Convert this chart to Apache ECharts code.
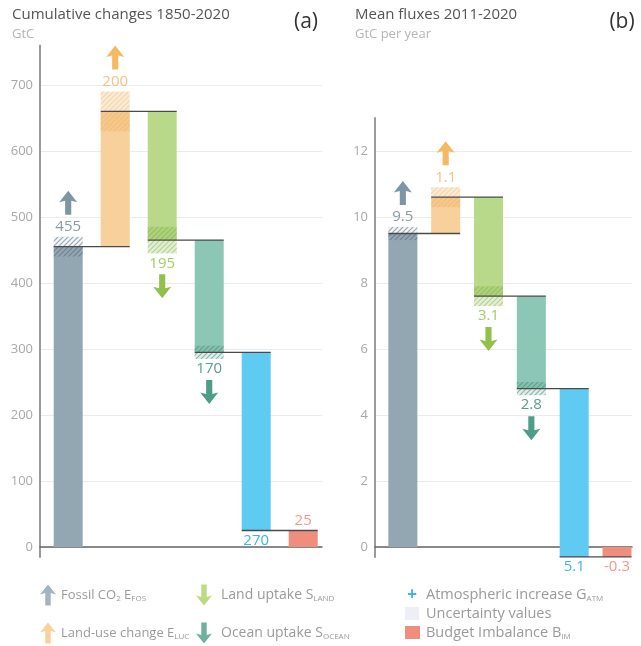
<!DOCTYPE html>
<html><head><meta charset="utf-8">
<script src="https://cdn.jsdelivr.net/npm/echarts@6/dist/echarts.min.js"></script>
<style>html,body{margin:0;padding:0;background:#fff}#c{width:641px;height:646px}</style>
</head><body><div id="c"></div>
<script>
// ---- data ----
const components = ['Fossil CO2', 'Land-use change', 'Land uptake', 'Ocean uptake', 'Atmospheric increase', 'Budget imbalance'];
const kinds = ['source', 'source', 'sink', 'sink', 'atm', 'bim'];

// Panel (a): cumulative changes 1850-2020, GtC
const lowA = [0, 455, 465, 295, 25, 0];
const highA = [455, 660, 660, 465, 295, 25];
const endA = [455, 660, 465, 295, 25, 25];
const uncA = [15, 30, 20, 10, 0, 0];
const labelA = ['455', '200', '195', '170', '270', '25'];
const ticksA = [0, 100, 200, 300, 400, 500, 600, 700];

// Panel (b): mean fluxes 2011-2020, GtC per year
const lowB = [0, 9.5, 7.6, 4.8, -0.3, -0.3];
const highB = [9.5, 10.6, 10.6, 7.6, 4.8, 0];
const endB = [9.5, 10.6, 7.6, 4.8, -0.3, -0.3];
const uncB = [0.2, 0.3, 0.3, 0.2, 0, 0];
const labelB = ['9.5', '1.1', '3.1', '2.8', '5.1', '-0.3'];
const ticksB = [0, 2, 4, 6, 8, 10, 12];

// ---- styles ----
const FONT = "'Open Sans', sans-serif";
const barColors = ['#93a7b3', '#f8d09c', '#b8d88a', '#8cc6b5', '#5fcbf2', '#f08e7e'];
const labelColors = ['#8a9ba6', '#f5c27e', '#a5cc62', '#5a9f8e', '#3db6e6', '#f29a88'];
const arrowColors = ['#7d96a4', '#f4b962', '#92c14b', '#4f9c88'];
const hatchColors = ['rgba(70,95,110,0.5)', 'rgba(235,165,80,0.3)', 'rgba(120,170,60,0.42)', 'rgba(60,130,110,0.5)', 'rgba(40,150,200,0.5)', 'rgba(220,100,80,0.5)'];
const tintColors = ['rgba(147,167,179,0.12)', 'rgba(240,180,100,0.28)', 'rgba(140,190,80,0.25)', 'rgba(100,170,150,0.2)', 'rgba(95,203,242,0.2)', 'rgba(240,142,126,0.2)'];

function hatchCanvas(color) {
  const c = document.createElement('canvas');
  c.width = 5; c.height = 5;
  const g = c.getContext('2d');
  g.strokeStyle = color; g.lineWidth = 1.2;
  g.beginPath();
  g.moveTo(0, 5); g.lineTo(5, 0);
  g.moveTo(-1, 1); g.lineTo(1, -1);
  g.moveTo(4, 6); g.lineTo(6, 4);
  g.stroke();
  return c;
}
const patterns = hatchColors.map(c => ({ image: hatchCanvas(c), repeat: 'repeat' }));

function arrowPoints(cx, cy, up, w, h) {
  const s = up ? 1 : -1;
  const hw = w / 2, sh = w * 0.17, headH = h * 0.48;
  const tip = cy - s * h / 2, base = tip + s * headH, tail = cy + s * h / 2;
  return [[cx, tip], [cx + hw, base], [cx + sh, base - s * 1.5], [cx + sh, tail], [cx - sh, tail], [cx - sh, base - s * 1.5], [cx - hw, base]];
}

function makeRender(low, high, end, unc, labels) {
  return function (params, api) {
    const i = params.dataIndex;
    const bw = 29;
    const cx = api.coord([i, 0])[0];
    const yLow = api.coord([i, low[i]])[1];
    const yHigh = api.coord([i, high[i]])[1];
    const ch = [];
    ch.push({ type: 'rect', shape: { x: cx - bw / 2, y: yHigh, width: bw, height: yLow - yHigh }, style: { fill: barColors[i] } });
    let yTopEdge = api.coord([i, end[i]])[1], yBotEdge = yTopEdge;
    if (unc[i] > 0) {
      const y1 = api.coord([i, end[i] + unc[i]])[1];
      const y2 = api.coord([i, end[i] - unc[i]])[1];
      ch.push({ type: 'rect', shape: { x: cx - bw / 2, y: y1, width: bw, height: y2 - y1 }, style: { fill: tintColors[i] } });
      ch.push({ type: 'rect', shape: { x: cx - bw / 2, y: y1, width: bw, height: y2 - y1 }, style: { fill: patterns[i] } });
      yTopEdge = y1; yBotEdge = y2;
    }
    if (i < labels.length - 1) {
      const cxn = api.coord([i + 1, 0])[0];
      const yl = api.coord([i, end[i]])[1];
      ch.push({ type: 'line', z2: 10, shape: { x1: cx - bw / 2, y1: yl, x2: cxn + bw / 2, y2: yl }, style: { stroke: '#4a4a4a', lineWidth: 1.3 } });
    }
    const k = kinds[i];
    const above = k === 'source' || (k === 'bim' && high[i] > 0);
    const ly = above ? yTopEdge - 10 : yBotEdge + 10;
    ch.push({ type: 'text', z2: 11, style: { text: labels[i], x: cx, y: ly, align: 'center', verticalAlign: 'middle', fill: labelColors[i], font: '500 15px ' + FONT } });
    if (k === 'source' || k === 'sink') {
      const ay = above ? ly - 24 : ly + 23;
      ch.push({ type: 'polygon', z2: 11, shape: { points: arrowPoints(cx, ay, above, 18, 24) }, style: { fill: arrowColors[i] } });
    }
    return { type: 'group', children: ch };
  };
}

const idx = components.map((_, i) => [i]);

function yAxisCfg(grid, min, max, ticks) {
  return {
    gridIndex: grid, type: 'value', min: min, max: max,
    axisLine: { show: true, onZero: false, lineStyle: { color: '#9a9a9a', width: 2 } },
    axisTick: { show: false, customValues: ticks },
    axisLabel: { customValues: ticks, color: '#a8a8a8', fontSize: 13, fontFamily: FONT, margin: 7 },
    splitLine: { show: true, lineStyle: { color: '#ebebeb', width: 1 } }
  };
}
function xAxisCfg(grid, min, max) {
  return {
    gridIndex: grid, type: 'value', min: min, max: max,
    axisLine: { show: true, onZero: true, lineStyle: { color: '#666', width: 1.5 } },
    axisTick: { show: false }, axisLabel: { show: false }, splitLine: { show: false }
  };
}

// legend helpers
const LC = '#9a9a9a';
function legText(x, y, text, size) {
  return { type: 'text', x: x, y: y, style: { text: text, fill: LC, fontSize: size, fontFamily: FONT, lineHeight: 16, verticalAlign: 'middle',
    rich: { s: { fontSize: 8, fontFamily: FONT, fill: LC, verticalAlign: 'bottom', lineHeight: 8 } } } };
}
function legArrow(cx, cy, up, color) {
  return { type: 'polygon', shape: { points: arrowPoints(cx, cy, up, 16, 21) }, style: { fill: color } };
}

const option = {
  backgroundColor: '#fff',
  animation: false,
  grid: [
    { left: 40, top: 45.4, width: 282, height: 511.5 },
    { left: 375, top: 118, width: 257, height: 438.9 }
  ],
  xAxis: [xAxisCfg(0, -0.6, 5.4), xAxisCfg(1, -0.65, 5.35)],
  yAxis: [yAxisCfg(0, -15, 760, ticksA), yAxisCfg(1, -0.3, 13, ticksB)],
  series: [
    { type: 'custom', xAxisIndex: 0, yAxisIndex: 0, clip: false, data: idx, encode: { x: 0 }, renderItem: makeRender(lowA, highA, endA, uncA, labelA) },
    { type: 'custom', xAxisIndex: 1, yAxisIndex: 1, clip: false, data: idx, encode: { x: 0 }, renderItem: makeRender(lowB, highB, endB, uncB, labelB) }
  ],
  graphic: [
    { type: 'text', x: 12, y: 15, style: { text: 'Cumulative changes 1850-2020', fill: '#555', fontSize: 15, fontFamily: FONT, verticalAlign: 'middle' } },
    { type: 'text', x: 12, y: 34, style: { text: 'GtC', fill: '#b5b5b5', fontSize: 13, fontFamily: FONT, verticalAlign: 'middle' } },
    { type: 'text', x: 306, y: 22, style: { text: '(a)', fill: '#333', fontSize: 21, fontFamily: FONT, align: 'center', verticalAlign: 'middle' } },
    { type: 'text', x: 355, y: 15, style: { text: 'Mean fluxes 2011-2020', fill: '#555', fontSize: 15, fontFamily: FONT, verticalAlign: 'middle' } },
    { type: 'text', x: 355, y: 34, style: { text: 'GtC per year', fill: '#b5b5b5', fontSize: 13, fontFamily: FONT, verticalAlign: 'middle' } },
    { type: 'text', x: 622, y: 22, style: { text: '(b)', fill: '#333', fontSize: 21, fontFamily: FONT, align: 'center', verticalAlign: 'middle' } },
    // legend
    legArrow(48, 595, true, '#a2b4bf'),
    legText(61, 595, 'Fossil CO{s|2} E{s|FOS}', 13),
    legArrow(48, 633, true, '#f8d29a'),
    legText(61, 633, 'Land-use change E{s|LUC}', 13),
    legArrow(204, 595, false, '#bcd983'),
    legText(221, 595, 'Land uptake S{s|LAND}', 14),
    legArrow(204, 633, false, '#72b09e'),
    legText(221, 633, 'Ocean uptake S{s|OCEAN}', 14),
    { type: 'text', x: 412, y: 595, style: { text: '+', fill: '#3db6e6', fontSize: 17, fontWeight: 'bold', fontFamily: FONT, align: 'center', verticalAlign: 'middle' } },
    legText(426, 595, 'Atmospheric increase G{s|ATM}', 14.5),
    { type: 'rect', shape: { x: 405, y: 607, width: 14, height: 13 }, style: { fill: '#eeeef6' } },
    legText(426, 614, 'Uncertainty values', 14.5),
    { type: 'rect', shape: { x: 405, y: 626, width: 15, height: 13 }, style: { fill: '#f08e7e' } },
    legText(426, 633, 'Budget Imbalance B{s|IM}', 14.5)
  ]
};

const chart = echarts.init(document.getElementById('c'), null, { renderer: 'canvas' });
chart.setOption(option);
</script>
</body></html>
